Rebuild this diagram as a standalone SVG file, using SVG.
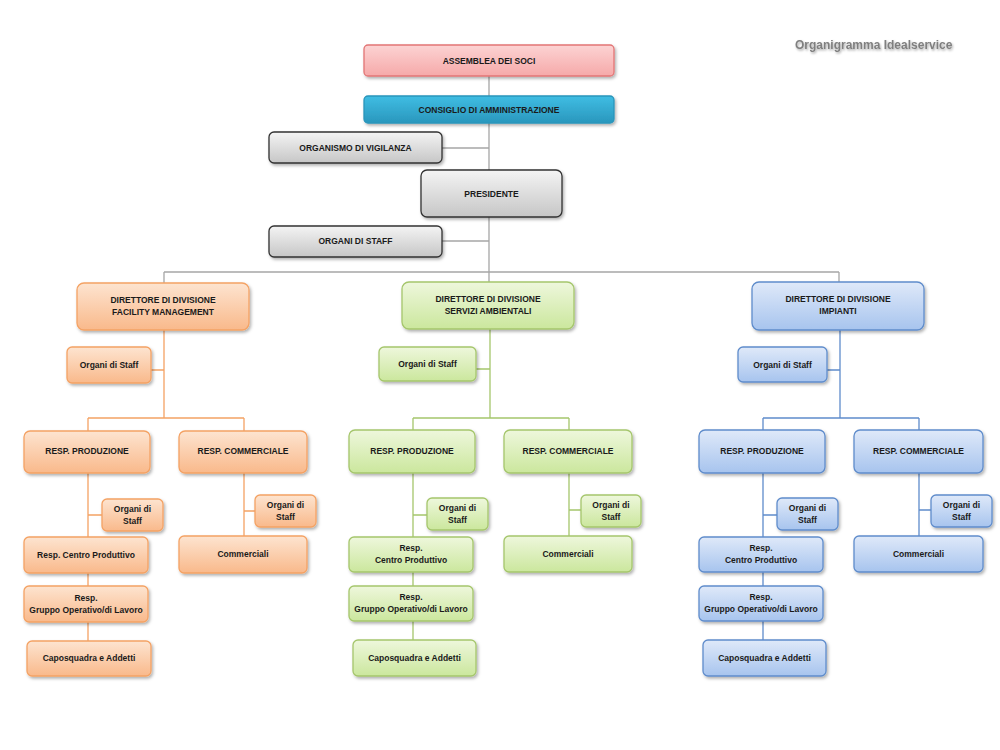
<svg xmlns="http://www.w3.org/2000/svg" width="1000" height="750" viewBox="0 0 1000 750">
<defs>
<linearGradient id="gPink" x1="0" y1="0" x2="0" y2="1"><stop offset="0" stop-color="#fcd3d3"/><stop offset="1" stop-color="#f6a9a9"/></linearGradient>
<linearGradient id="gTeal" x1="0" y1="0" x2="0" y2="1"><stop offset="0" stop-color="#3fbde3"/><stop offset="1" stop-color="#2a97bd"/></linearGradient>
<linearGradient id="gGray" x1="0" y1="0" x2="0" y2="1"><stop offset="0" stop-color="#f4f4f4"/><stop offset="1" stop-color="#c6c6c6"/></linearGradient>
<linearGradient id="gOr" x1="0" y1="0" x2="0" y2="1"><stop offset="0" stop-color="#fde4d0"/><stop offset="1" stop-color="#f9b98b"/></linearGradient>
<linearGradient id="gGr" x1="0" y1="0" x2="0" y2="1"><stop offset="0" stop-color="#eef7dc"/><stop offset="1" stop-color="#cbe79d"/></linearGradient>
<linearGradient id="gBl" x1="0" y1="0" x2="0" y2="1"><stop offset="0" stop-color="#dfe9f9"/><stop offset="1" stop-color="#a7c4ee"/></linearGradient>
<filter id="sh" x="-10%" y="-20%" width="125%" height="150%"><feDropShadow dx="1.5" dy="2" stdDeviation="1.5" flood-color="#000" flood-opacity="0.3"/></filter>
<filter id="tsh" x="-5%" y="-30%" width="110%" height="170%"><feDropShadow dx="1" dy="1.5" stdDeviation="1" flood-color="#000" flood-opacity="0.35"/></filter>
</defs>
<style>
.box{filter:url(#sh);stroke-width:1.3}
.pink{fill:url(#gPink);stroke:#e27575}
.teal{fill:url(#gTeal);stroke:#2a95ba}
.gray{fill:url(#gGray);stroke:#333333}
.or{fill:url(#gOr);stroke:#f4a264}
.gr{fill:url(#gGr);stroke:#a5c66c}
.bl{fill:url(#gBl);stroke:#5f8ccb}
text{font-family:"Liberation Sans",Arial,sans-serif;font-weight:bold;font-size:8.5px;fill:#1a1a1a;text-anchor:middle}
.title{font-size:12px;fill:#7f7f7f;text-anchor:start;filter:url(#tsh)}
.lg{stroke:#a6a6a6;stroke-width:1.3;fill:none}
.lo{stroke:#f4a264;stroke-width:1.3;fill:none}
.lgr{stroke:#a5c66c;stroke-width:1.3;fill:none}
.lb{stroke:#5f8ccb;stroke-width:1.3;fill:none}
</style>
<rect width="1000" height="750" fill="#ffffff"/>
<text class="title" x="795" y="49">Organigramma Idealservice</text>

<g id="connectors">
<path class="lg" d="M489 76V272M442 148H489M442 241H489M164 272H839M164 272V283M489 272V282M839 272V282"/>
<path class="lo" d="M164 330V418M151 370H164M88 418H244M88 418V431M244 418V431M88 473V641M88 515H102M244 473V536M244 511H255"/>
<path class="lgr" d="M490 329V418M476 369H490M413 418H569M413 418V430M569 418V430M413 473V640M413 515H427M569 473V536M569 510H581"/>
<path class="lb" d="M840 330V418M827 370H840M763 418H919M763 418V430M919 418V430M763 473V640M763 515H777M919 473V536M919 510H931"/>
</g>

<g id="assemblea"><rect class="box pink" x="364" y="45" width="250" height="31" rx="4"/><text x="489" y="64">ASSEMBLEA DEI SOCI</text></g>
<g id="consiglio"><rect class="box teal" x="364" y="96" width="250" height="27" rx="4"/><text x="489" y="113">CONSIGLIO DI AMMINISTRAZIONE</text></g>
<g id="vigilanza"><rect class="box gray" x="269" y="132" width="173" height="31" rx="5"/><text x="355.5" y="151">ORGANISMO DI VIGILANZA</text></g>
<g id="presidente"><rect class="box gray" x="421" y="170" width="141" height="47" rx="6"/><text x="491.5" y="197">PRESIDENTE</text></g>
<g id="staff"><rect class="box gray" x="269" y="226" width="173" height="31" rx="5"/><text x="355.5" y="244">ORGANI DI STAFF</text></g>

<g id="dir-fm"><rect class="box or" x="77" y="283" width="172" height="47" rx="7"/><text x="163" y="303">DIRETTORE DI DIVISIONE</text><text x="163" y="315">FACILITY MANAGEMENT</text></g>
<g id="fm-staff"><rect class="box or" x="67" y="347" width="84" height="36" rx="5"/><text x="109" y="368">Organi di Staff</text></g>
<g id="fm-prod"><rect class="box or" x="24" y="431" width="126" height="42" rx="6"/><text x="87" y="454">RESP. PRODUZIONE</text></g>
<g id="fm-comm"><rect class="box or" x="179" y="431" width="128" height="42" rx="6"/><text x="243" y="454">RESP. COMMERCIALE</text></g>
<g id="fm-prod-staff"><rect class="box or" x="102" y="499" width="61" height="32" rx="5"/><text x="132.5" y="512">Organi di</text><text x="132.5" y="524">Staff</text></g>
<g id="fm-centro"><rect class="box or" x="24" y="537" width="124" height="36" rx="5"/><text x="86" y="558">Resp. Centro Produttivo</text></g>
<g id="fm-gruppo"><rect class="box or" x="24" y="586" width="124" height="36" rx="5"/><text x="86" y="601">Resp.</text><text x="86" y="613">Gruppo Operativo/di Lavoro</text></g>
<g id="fm-capo"><rect class="box or" x="27" y="641" width="124" height="35" rx="5"/><text x="89" y="661">Caposquadra e Addetti</text></g>
<g id="fm-comm-staff"><rect class="box or" x="255" y="495" width="61" height="32" rx="5"/><text x="285.5" y="508">Organi di</text><text x="285.5" y="520">Staff</text></g>
<g id="fm-commerciali"><rect class="box or" x="179" y="536" width="128" height="37" rx="5"/><text x="243" y="557">Commerciali</text></g>

<g id="dir-sa"><rect class="box gr" x="402" y="282" width="172" height="47" rx="7"/><text x="488" y="302">DIRETTORE DI DIVISIONE</text><text x="488" y="314">SERVIZI AMBIENTALI</text></g>
<g id="sa-staff"><rect class="box gr" x="379" y="347" width="97" height="34" rx="5"/><text x="427.5" y="367">Organi di Staff</text></g>
<g id="sa-prod"><rect class="box gr" x="349" y="430" width="126" height="43" rx="6"/><text x="412" y="454">RESP. PRODUZIONE</text></g>
<g id="sa-comm"><rect class="box gr" x="504" y="430" width="128" height="43" rx="6"/><text x="568" y="454">RESP. COMMERCIALE</text></g>
<g id="sa-prod-staff"><rect class="box gr" x="427" y="498" width="61" height="32" rx="5"/><text x="457.5" y="511">Organi di</text><text x="457.5" y="523">Staff</text></g>
<g id="sa-centro"><rect class="box gr" x="349" y="537" width="124" height="35" rx="5"/><text x="411" y="551">Resp.</text><text x="411" y="563">Centro Produttivo</text></g>
<g id="sa-gruppo"><rect class="box gr" x="349" y="586" width="124" height="35" rx="5"/><text x="411" y="600">Resp.</text><text x="411" y="612">Gruppo Operativo/di Lavoro</text></g>
<g id="sa-capo"><rect class="box gr" x="353" y="640" width="123" height="36" rx="5"/><text x="414.5" y="661">Caposquadra e Addetti</text></g>
<g id="sa-comm-staff"><rect class="box gr" x="581" y="495" width="60" height="32" rx="5"/><text x="611" y="508">Organi di</text><text x="611" y="520">Staff</text></g>
<g id="sa-commerciali"><rect class="box gr" x="504" y="536" width="128" height="36" rx="5"/><text x="568" y="557">Commerciali</text></g>

<g id="dir-imp"><rect class="box bl" x="752" y="282" width="172" height="48" rx="7"/><text x="838" y="302">DIRETTORE DI DIVISIONE</text><text x="838" y="314">IMPIANTI</text></g>
<g id="imp-staff"><rect class="box bl" x="738" y="347" width="89" height="35" rx="5"/><text x="782.5" y="368">Organi di Staff</text></g>
<g id="imp-prod"><rect class="box bl" x="699" y="430" width="126" height="43" rx="6"/><text x="762" y="454">RESP. PRODUZIONE</text></g>
<g id="imp-comm"><rect class="box bl" x="854" y="430" width="129" height="43" rx="6"/><text x="918.5" y="454">RESP. COMMERCIALE</text></g>
<g id="imp-prod-staff"><rect class="box bl" x="777" y="498" width="61" height="32" rx="5"/><text x="807.5" y="511">Organi di</text><text x="807.5" y="523">Staff</text></g>
<g id="imp-centro"><rect class="box bl" x="699" y="537" width="124" height="35" rx="5"/><text x="761" y="551">Resp.</text><text x="761" y="563">Centro Produttivo</text></g>
<g id="imp-gruppo"><rect class="box bl" x="699" y="586" width="124" height="35" rx="5"/><text x="761" y="600">Resp.</text><text x="761" y="612">Gruppo Operativo/di Lavoro</text></g>
<g id="imp-capo"><rect class="box bl" x="703" y="640" width="123" height="36" rx="5"/><text x="764.5" y="661">Caposquadra e Addetti</text></g>
<g id="imp-comm-staff"><rect class="box bl" x="931" y="495" width="61" height="32" rx="5"/><text x="961.5" y="508">Organi di</text><text x="961.5" y="520">Staff</text></g>
<g id="imp-commerciali"><rect class="box bl" x="854" y="536" width="129" height="36" rx="5"/><text x="918.5" y="557">Commerciali</text></g>
</svg>
